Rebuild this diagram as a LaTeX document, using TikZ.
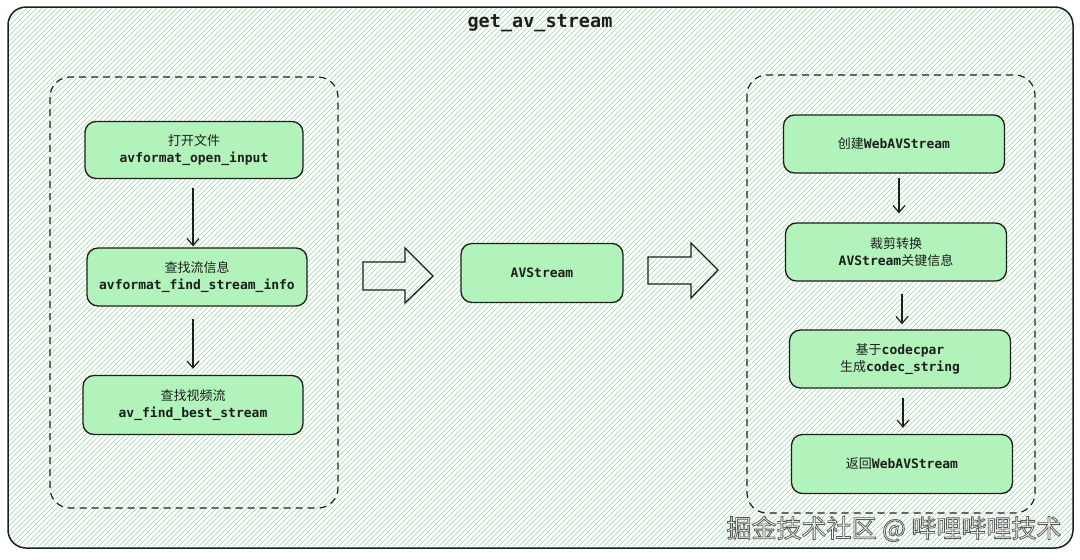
\documentclass[tikz,border=0pt]{standalone}
\usepackage{fontspec}
\newfontfamily\cjk{Noto Sans CJK SC}
\newfontfamily\mono{DejaVu Sans Mono}
\usetikzlibrary{arrows.meta}
\definecolor{nodegreen}{HTML}{B2F2BB}
\definecolor{ink}{HTML}{1E1E1E}
\definecolor{hatchgreen}{HTML}{9ED9A8}
\tikzset{
 box/.style={draw=ink, line width=1.3pt, fill=nodegreen, rounded corners=11pt, align=center,
   font=\mono\bfseries\fontsize{13}{17}\selectfont, text=ink, inner sep=0pt},
 flow/.style={draw=ink, line width=1.2pt, -{Straight Barb[length=7pt,width=12pt]}},
 group/.style={draw=ink, line width=1.2pt, dash pattern=on 7pt off 5pt, rounded corners=20pt},
 hollow/.style={draw=ink, line width=1.3pt, line join=miter},
 hatchline/.style={draw=hatchgreen, line width=0.65pt},
 wmfont/.style={font=\cjk\fontsize{25}{25}\selectfont, inner sep=0pt, text=white},
}
\newcommand{\zh}[1]{{\cjk\mdseries #1}}
\newcommand{\outlinedtext}[1]{\special{pdf:literal direct 2 Tr 0.8 w 0.35 0.35 0.35 RG}#1\special{pdf:literal direct 0 Tr}}
\begin{document}
\begin{tikzpicture}[x=1pt,y=-1pt]
\useasboundingbox (0,0) rectangle (1080,560);
\fill[white] (0,0) rectangle (1080,560);
% hatched background
\begin{scope}
\clip[rounded corners=18pt] (8,7) rectangle (1073,548);
\foreach \i in {-560,-555,...,1080} \draw[hatchline] (\i,560) -- ++(560,-560);
\end{scope}
\draw[ink, line width=1.5pt, rounded corners=18pt] (8,7) rectangle (1073,548);
\node[text=ink, font=\mono\bfseries\fontsize{18.5}{20}\selectfont] (title) at (540,23) {get\_av\_stream};

% groups
\draw[group] (50,77) rectangle (338,508);
\draw[group] (747,75) rectangle (1035,513);

% left nodes
\node[box, minimum width=218pt, minimum height=57pt] (n1) at (194,150) {\zh{打开文件}\\avformat\_open\_input};
\node[box, minimum width=220pt, minimum height=58pt] (n2) at (197,277) {\zh{查找流信息}\\avformat\_find\_stream\_info};
\node[box, minimum width=220pt, minimum height=59pt] (n3) at (193,405) {\zh{查找视频流}\\av\_find\_best\_stream};

\draw[flow, shorten <=9pt, shorten >=1pt] ([xshift=-1pt]n1.south) -- ([xshift=-1pt]n1.south |- n2.north);
\draw[flow, shorten <=12pt, shorten >=6pt] ([xshift=-4pt]n2.south) -- ([xshift=-4pt]n2.south |- n3.north);

% middle
\node[box, minimum width=162pt, minimum height=59pt] (av) at (542,273) {AVStream};
\draw[hollow] (363,262) -- (405,262) -- (405,248) -- (433,276) -- (405,303) -- (405,290) -- (363,290) -- cycle;
\draw[hollow] (648,257) -- (691,257) -- (691,243) -- (718,270) -- (691,298) -- (691,284) -- (648,284) -- cycle;

% right nodes
\node[box, minimum width=221pt, minimum height=58pt] (r1) at (894,144) {\zh{创建}WebAVStream};
\node[box, minimum width=221pt, minimum height=58pt] (r2) at (896,252) {\zh{裁剪转换}\\AVStream\zh{关键信息}};
\node[box, minimum width=221pt, minimum height=58pt] (r3) at (900,359) {\zh{基于}codecpar\\\zh{生成}codec\_string};
\node[box, minimum width=221pt, minimum height=59pt] (r4) at (902,464) {\zh{返回}WebAVStream};

\draw[flow, shorten <=4pt, shorten >=9pt] ([xshift=5pt]r1.south) -- ([xshift=5pt]r1.south |- r2.north);
\draw[flow, shorten <=12pt, shorten >=5pt] ([xshift=6pt]r2.south) -- ([xshift=6pt]r2.south |- r3.north);
\draw[flow, shorten <=9pt, shorten >=6pt] ([xshift=3pt]r3.south) -- ([xshift=3pt]r3.south |- r4.north);

% watermark
\node[wmfont] (wm) at (894,529) {\outlinedtext{掘金技术社区 @ 哔哩哔哩技术}};
\end{tikzpicture}
\end{document}
